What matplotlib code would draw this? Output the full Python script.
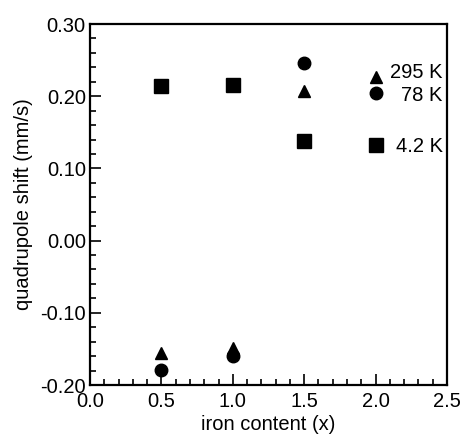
import matplotlib.pyplot as plt
from matplotlib.ticker import MultipleLocator, FormatStrFormatter
from matplotlib.transforms import ScaledTranslation

plt.rcParams['font.family'] = ['Liberation Sans', 'DejaVu Sans']

iron = [0.5, 1.0, 1.5, 2.0]
qs_295K = [-0.156, -0.149, 0.207, 0.227]
qs_78K = [-0.179, -0.160, 0.246, 0.205]
qs_4K = [0.214, 0.216, 0.138, 0.132]
labels = ["295 K", "78 K", "4.2 K"]
label_y = [0.233, 0.201, 0.131]

fig = plt.figure(figsize=(4.64, 4.37), dpi=100)
ax = fig.add_axes([90/464, 1 - 385/437, 357/464, 361/437])

ax.plot(iron, qs_4K, "s", color="k", markersize=10, linestyle="none")
ax.plot(iron, qs_78K, "o", color="k", markersize=9, linestyle="none")
ax.plot(iron, qs_295K, "^", color="k", markersize=9, linestyle="none")

# labels next to the x=2.0 points
for lab, yy in zip(labels, label_y):
    ax.text(2.47, yy, lab, ha="right", va="center", fontsize=14.5)

ax.set_xlim(0, 2.5)
ax.set_ylim(-0.20, 0.30)
ax.xaxis.set_major_locator(MultipleLocator(0.5))
ax.xaxis.set_minor_locator(MultipleLocator(0.1))
ax.yaxis.set_major_locator(MultipleLocator(0.1))
ax.yaxis.set_minor_locator(MultipleLocator(0.02))
ax.xaxis.set_major_formatter(FormatStrFormatter("%.1f"))
ax.yaxis.set_major_formatter(FormatStrFormatter("%.2f"))
ax.tick_params(which="both", direction="in", top=False, right=False, labelsize=14.5, width=1.2)
ax.tick_params(which="major", length=8)
ax.tick_params(which="minor", length=4)
ax.tick_params(axis="x", pad=5)
ax.tick_params(axis="y", pad=3)
for s in ax.spines.values():
    s.set_linewidth(1.6)

# nudge the bottom y label up a little, like the reference
fig.canvas.draw()
ylabs = ax.get_yticklabels()
ylabs[0].set_transform(ylabs[0].get_transform() + ScaledTranslation(0, 3/72, fig.dpi_scale_trans))

ax.set_xlabel("iron content (x)", fontsize=14.5, labelpad=3)
ax.set_ylabel("quadrupole shift (mm/s)", fontsize=14.5, labelpad=5)

fig.savefig("out.png", dpi=100)
